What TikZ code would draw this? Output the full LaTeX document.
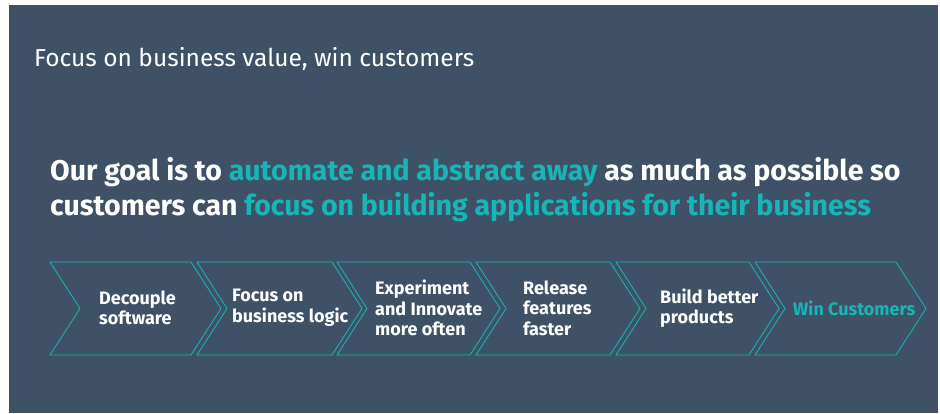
\documentclass[tikz,border=0pt]{standalone}
\usepackage{fontspec}
\setmainfont{Fira Sans}
\usepackage{tikz}

\definecolor{slate}{HTML}{3E5166}
\definecolor{accent}{HTML}{17B5B5}

\tikzset{
  steptext/.style={anchor=west, align=left, inner sep=0, text=white,
    font=\bfseries\fontsize{18}{20.5}\selectfont},
  chevron/.style={draw=accent, line width=0.8pt}
}

\begin{document}
\begin{tikzpicture}[x=1pt,y=-1pt]
		\useasboundingbox (0,0) rectangle (940,414);
		\fill[white] (0,0) rectangle (940,414);
		\fill[slate] (9,5) rectangle (938,413);

		\node[anchor=base west, inner sep=0, text=white, font=\fontsize{24.5}{28}\selectfont] (title) at (34,67) {Focus on business value, win customers};

		\node[anchor=base west, inner sep=0, align=left, text=white, font=\bfseries\fontsize{28.5}{35}\selectfont] (goal) at (50,216)
			{Our goal is to \textcolor{accent}{automate and abstract away} as much as possible so\\
			customers can \textcolor{accent}{focus on building applications for their business}};

		% the six steps
		\foreach \x/\w in {50/141, 197/135, 337/133, 476/134, 616/133, 755/141}
			\draw[chevron] (\x,262) -- ++(\w,0) -- ++(30,46.5) -- ++(-30,46.5) -- ++(-\w,0) -- ++(30,-46.5) -- cycle;

		\node[steptext] (decouple) at (99,308) {Decouple\\software};
		\node[steptext] (logic) at (232,308) {Focus on\\business logic};
		\node[steptext] (innovate) at (375,308) {Experiment\\and Innovate\\more often};
		\node[steptext] (release) at (523,308) {Release\\features\\faster};
		\node[steptext] (products) at (660,308) {Build better\\products};
		\node[steptext, text=accent] (win) at (793,308) {Win Customers};
	\end{tikzpicture}
\end{document}
